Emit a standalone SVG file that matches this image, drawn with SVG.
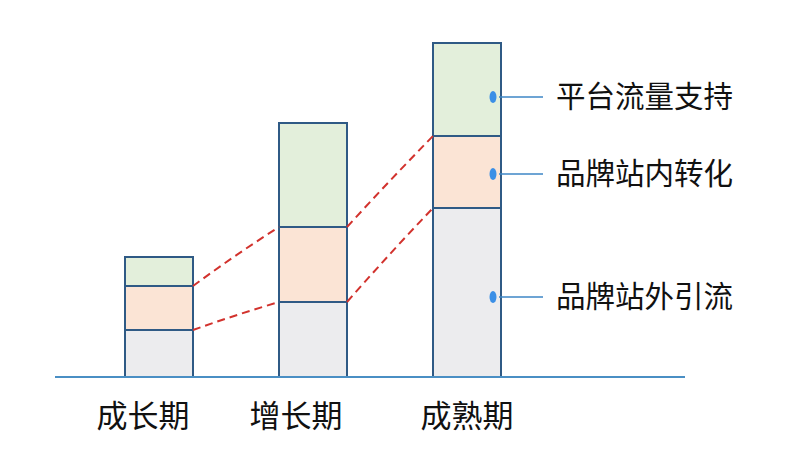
<svg xmlns="http://www.w3.org/2000/svg" width="796" height="458" viewBox="0 0 796 458">
<style>
.seg{stroke:#2f5a85;stroke-width:2}
.g{fill:#e3efdb}
.o{fill:#fbe4d5}
.n{fill:#ececee}
.dash{stroke:#d2322d;stroke-width:2;stroke-dasharray:8 5;fill:none}
.lead{stroke:#3d86c6;stroke-width:1.5}
.dot{fill:#3b8fe6}
.lbl{font-family:"Noto Sans CJK SC","Noto Sans",sans-serif;fill:#111}
.leg{font-size:29.5px}
</style>
<rect width="796" height="458" fill="#ffffff"/>
<g id="bar-growth">
<rect class="seg g" x="125" y="257" width="68" height="29"/>
<rect class="seg o" x="125" y="286" width="68" height="44"/>
<rect class="seg n" x="125" y="330" width="68" height="47"/>
</g>
<g id="bar-increase">
<rect class="seg g" x="279" y="123" width="68" height="104"/>
<rect class="seg o" x="279" y="227" width="68" height="75"/>
<rect class="seg n" x="279" y="302" width="68" height="75"/>
</g>
<g id="bar-mature">
<rect class="seg g" x="433" y="43" width="68" height="93"/>
<rect class="seg o" x="433" y="136" width="68" height="72"/>
<rect class="seg n" x="433" y="208" width="68" height="169"/>
</g>
<g id="baseline"><line x1="55" y1="377" x2="685" y2="377" stroke="#4a8fc4" stroke-width="2"/></g>
<g id="connectors">
<path class="dash" d="M193,286 Q235,255 279,227"/>
<path class="dash" d="M193,330 Q235,315 279,302"/>
<path class="dash" d="M347,227 Q390,180 433,136"/>
<path class="dash" d="M347,302 Q390,253 433,208"/>
<line class="lead" x1="499" y1="97" x2="543" y2="97"/>
<line class="lead" x1="499" y1="174" x2="543" y2="174"/>
<line class="lead" x1="499" y1="297" x2="543" y2="297"/>
<ellipse class="dot" cx="493" cy="97" rx="3.5" ry="6"/>
<ellipse class="dot" cx="493" cy="174" rx="3.5" ry="6"/>
<ellipse class="dot" cx="493" cy="297" rx="3.5" ry="6"/>
</g>
<g id="legend-platform"><text class="lbl leg" x="556" y="107">平台流量支持</text></g>
<g id="legend-internal"><text class="lbl leg" x="556" y="184">品牌站内转化</text></g>
<g id="legend-external"><text class="lbl leg" x="556" y="307">品牌站外引流</text></g>
<g id="label-growth"><text class="lbl" x="143" y="427" font-size="31" text-anchor="middle">成长期</text></g>
<g id="label-increase"><text class="lbl" x="296" y="427" font-size="31" text-anchor="middle">增长期</text></g>
<g id="label-mature"><text class="lbl" x="467" y="427" font-size="31" text-anchor="middle">成熟期</text></g>
</svg>
